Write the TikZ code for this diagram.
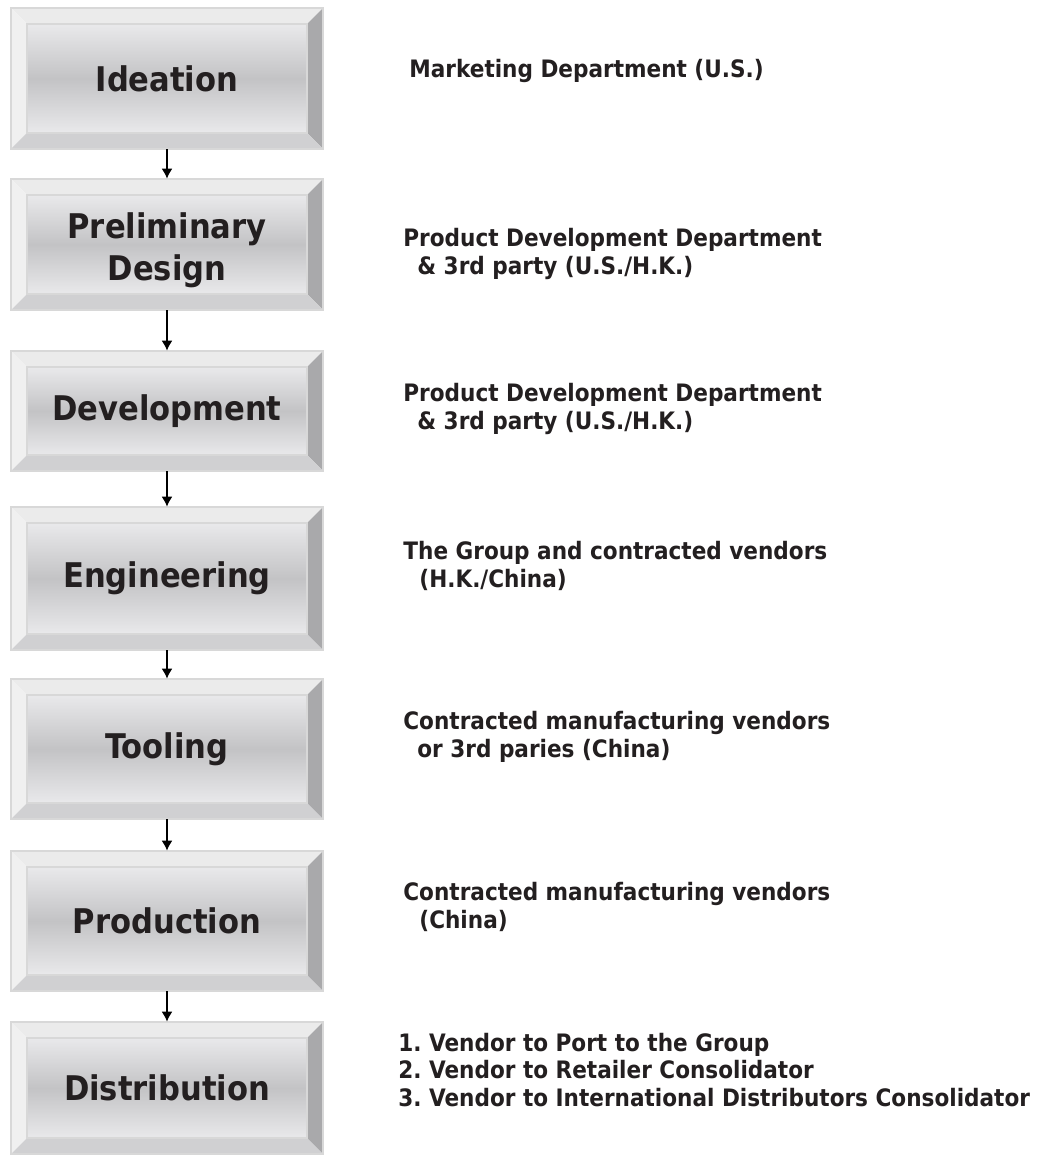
\documentclass[tikz,border=0pt]{standalone}
\usepackage{fontspec}
\usepackage{xcolor}
\usepackage{tikz}
\usetikzlibrary{calc}
\usetikzlibrary{arrows.meta}
\newfontfamily\stagefont{DejaVu Sans Condensed Bold}

\definecolor{bvtop}{HTML}{EBEBEB}
\definecolor{bvleft}{HTML}{F0F0F0}
\definecolor{bvright}{HTML}{A9A9AB}
\definecolor{bvbottom}{HTML}{D0D0D2}
\definecolor{facetop}{HTML}{E9E9EB}
\definecolor{facemid}{HTML}{C3C3C5}
\definecolor{edge}{HTML}{D8D8D8}
\definecolor{ink}{HTML}{231F20}

\tikzset{
	stage/.style={inner sep=0pt,minimum width=156pt,text=ink,align=center,font=\stagefont\fontsize{17}{21}\selectfont},
	who/.style={anchor=base west,inner sep=0pt,text=ink,align=left,font=\stagefont\frenchspacing\fontsize{12}{13.6}\selectfont},
	flow/.style={-{Latex[length=5pt,width=5.5pt]},line width=0.7pt,black},
}

% bevelled box: name, top, bottom, label
\newcommand{\stagebox}[4]{%
	\fill[bvtop] (11,#2) -- (323,#2) -- (307,#2+16) -- (27,#2+16) -- cycle;
	\fill[bvleft] (11,#2) -- (27,#2+16) -- (27,#3-16) -- (11,#3) -- cycle;
	\fill[bvright] (323,#2) -- (323,#3) -- (307,#3-16) -- (307,#2+16) -- cycle;
	\fill[bvbottom] (11,#3) -- (27,#3-16) -- (307,#3-16) -- (323,#3) -- cycle;
	\shade[top color=facetop,bottom color=facetop,middle color=facemid] (27,#2+16) rectangle (307,#3-16);
	\draw[edge,line width=0.6pt] (27,#2+16) rectangle (307,#3-16);
	\draw[edge,line width=0.8pt] (11,#2) rectangle (323,#3);
	\node[stage,minimum height={(#3-#2)*0.5pt}] (#1) at (167,{(#2+#3)/2}) {#4};
}

\begin{document}
\begin{tikzpicture}[x=0.5pt,y=-0.5pt]
	\useasboundingbox[fill=white] (0,0) rectangle (1039,1155);
	\stagebox{ideation}{8}{149}{Ideation}
	\stagebox{design}{179}{310}{\rule{0pt}{19pt}Preliminary\\Design}
	\stagebox{develop}{351}{471}{Development}
	\stagebox{engineer}{507}{650}{Engineering}
	\stagebox{tooling}{679}{819}{Tooling}
	\stagebox{produce}{851}{991}{Production}
	\stagebox{distrib}{1022}{1154}{Distribution}

	\draw[flow] (ideation) -- (design);
	\draw[flow] (design) -- (develop);
	\draw[flow] (develop) -- (engineer);
	\draw[flow] (engineer) -- (tooling);
	\draw[flow] (tooling) -- (produce);
	\draw[flow] (produce) -- (distrib);

		% base anchor sits on the last line
		\node[who] (mkt) at (409,78) {Marketing Department (U.S.)};
		\node[who] (pdd) at (403,274) {Product Development Department\\\hspace{7pt}\& 3rd party (U.S./H.K.)};
		\node[who] (pdd3) at (403,429) {Product Development Department\\\hspace{7pt}\& 3rd party (U.S./H.K.)};
		\node[who] (group) at (403,587) {The Group and contracted vendors\\\hspace{8pt}(H.K./China)};
		\node[who] (vendors) at (403,757) {Contracted manufacturing vendors\\\hspace{7pt}or 3rd paries (China)};
		\node[who] (china) at (403,928) {Contracted manufacturing vendors\\\hspace{8pt}(China)};
		\node[who] (routes) at (398,1106) {1. Vendor to Port to the Group\\2. Vendor to Retailer Consolidator\\3. Vendor to International Distributors Consolidator};
\end{tikzpicture}
\end{document}
